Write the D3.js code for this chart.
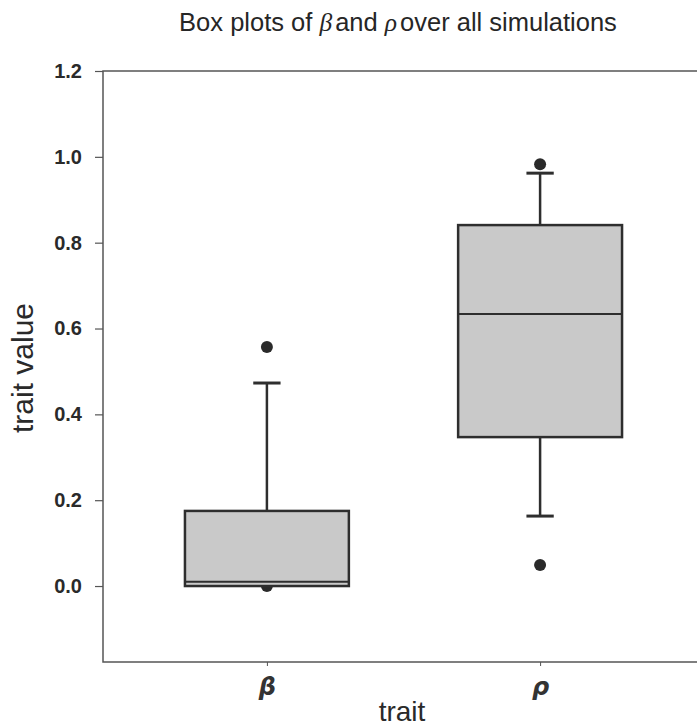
<!DOCTYPE html>
<html>
<head>
<meta charset="utf-8">
<script src="https://cdn.jsdelivr.net/npm/d3@7"></script>
<style>
  html, body { margin: 0; padding: 0; background: #fff; }
  svg { display: block; }
</style>
</head>
<body>
<svg id="chart" width="697" height="728"></svg>
<script>
// Box summaries per trait
const categories = ["β", "ρ"];
const positions = [1, 2];
const q1 = [0.0, 0.347];
const medians = [0.01, 0.634];
const q3 = [0.175, 0.841];
const whiskerLow = [0.0, 0.163];
const whiskerHigh = [0.473, 0.962];
const outliers = [[0.557, 0.0], [0.983, 0.049]];
const yTicks = [0.0, 0.2, 0.4, 0.6, 0.8, 1.0, 1.2];

const svg = d3.select("#chart");
const plotLeft = 103, plotTop = 71, plotBottom = 662, plotRight = 704;

const x = d3.scaleLinear().domain([0.4, 2.6]).range([plotLeft, plotRight]);
const y = d3.scaleLinear().domain([-0.177, 1.2]).range([plotBottom, plotTop]);

const boxW = x(0.6) - x(0);
const capW = x(0.1) - x(0);

// Title with italic Greek symbols
const title = svg.append("text")
  .attr("x", 398).attr("y", 31)
  .attr("text-anchor", "middle")
  .attr("font-family", "Liberation Sans, Arial, sans-serif")
  .attr("font-size", 25.5)
  .attr("fill", "#262626");
title.append("tspan").text("Box plots of ");
title.append("tspan").attr("font-style", "italic").attr("font-family", "Liberation Serif, serif").text("β");
title.append("tspan").attr("dx", 3).text("and ");
title.append("tspan").attr("font-style", "italic").attr("font-family", "Liberation Serif, serif").text("ρ");
title.append("tspan").attr("dx", 3).text("over all simulations");

// Outlier points (drawn beneath the boxes)
const g = svg.append("g");
positions.forEach((p, i) => {
  g.selectAll(null).data(outliers[i]).enter().append("circle")
    .attr("cx", x(p)).attr("cy", d => y(d)).attr("r", 6)
    .attr("fill", "#2a2a2a");
});

// Whiskers, caps, boxes and medians
positions.forEach((p, i) => {
  const cx = x(p);
  const stroke = "#2e2e2e";
  g.append("line").attr("x1", cx).attr("x2", cx)
    .attr("y1", y(q3[i])).attr("y2", y(whiskerHigh[i]))
    .attr("stroke", stroke).attr("stroke-width", 2.5);
  g.append("line").attr("x1", cx).attr("x2", cx)
    .attr("y1", y(q1[i])).attr("y2", y(whiskerLow[i]))
    .attr("stroke", stroke).attr("stroke-width", 2.5);
  [whiskerHigh[i], whiskerLow[i]].forEach(v => {
    if (v === q1[i]) return;
    g.append("line").attr("x1", cx - capW / 2).attr("x2", cx + capW / 2)
      .attr("y1", y(v)).attr("y2", y(v))
      .attr("stroke", stroke).attr("stroke-width", 3);
  });
  g.append("rect")
    .attr("x", cx - boxW / 2).attr("width", boxW)
    .attr("y", y(q3[i])).attr("height", y(q1[i]) - y(q3[i]))
    .attr("fill", "#c9c9c9").attr("stroke", stroke).attr("stroke-width", 2.5);
  g.append("line").attr("x1", cx - boxW / 2).attr("x2", cx + boxW / 2)
    .attr("y1", y(medians[i])).attr("y2", y(medians[i]))
    .attr("stroke", stroke).attr("stroke-width", 2);
});

// Frame
svg.append("path")
  .attr("d", `M${plotRight},${plotTop}H${plotLeft}V${plotBottom}H${plotRight}`)
  .attr("fill", "none").attr("stroke", "#555").attr("stroke-width", 1.5);

// Y axis
const yAxis = svg.append("g").attr("transform", `translate(${plotLeft},0)`)
  .call(d3.axisLeft(y).tickValues(yTicks).tickFormat(d3.format(".1f")).tickSize(8).tickPadding(13));
yAxis.select(".domain").remove();
yAxis.selectAll("line").attr("stroke", "#555").attr("stroke-width", 1.2);
yAxis.selectAll("text")
  .attr("font-family", "Liberation Sans, Arial, sans-serif")
  .attr("font-size", 20).attr("font-weight", "bold").attr("fill", "#2a2a2a");

// X axis
const xAxis = svg.append("g").attr("transform", `translate(0,${plotBottom})`)
  .call(d3.axisBottom(x).tickValues(positions).tickFormat((d, i) => categories[i]).tickSize(4).tickPadding(12));
xAxis.select(".domain").remove();
xAxis.selectAll("line").attr("stroke", "#555").attr("stroke-width", 1);
xAxis.selectAll("text")
  .attr("font-family", "DejaVu Sans, sans-serif")
  .attr("font-style", "italic").attr("font-weight", "bold")
  .attr("font-size", 24).attr("fill", "#333");

// Axis titles
svg.append("text")
  .attr("x", 402).attr("y", 721)
  .attr("text-anchor", "middle")
  .attr("font-family", "Liberation Sans, Arial, sans-serif")
  .attr("font-size", 28).attr("fill", "#2a2a2a")
  .text("trait");
svg.append("text")
  .attr("transform", "translate(33,368) rotate(-90)")
  .attr("text-anchor", "middle")
  .attr("font-family", "Liberation Sans, Arial, sans-serif")
  .attr("font-size", 30).attr("fill", "#2a2a2a")
  .text("trait value");
</script>
</body>
</html>
